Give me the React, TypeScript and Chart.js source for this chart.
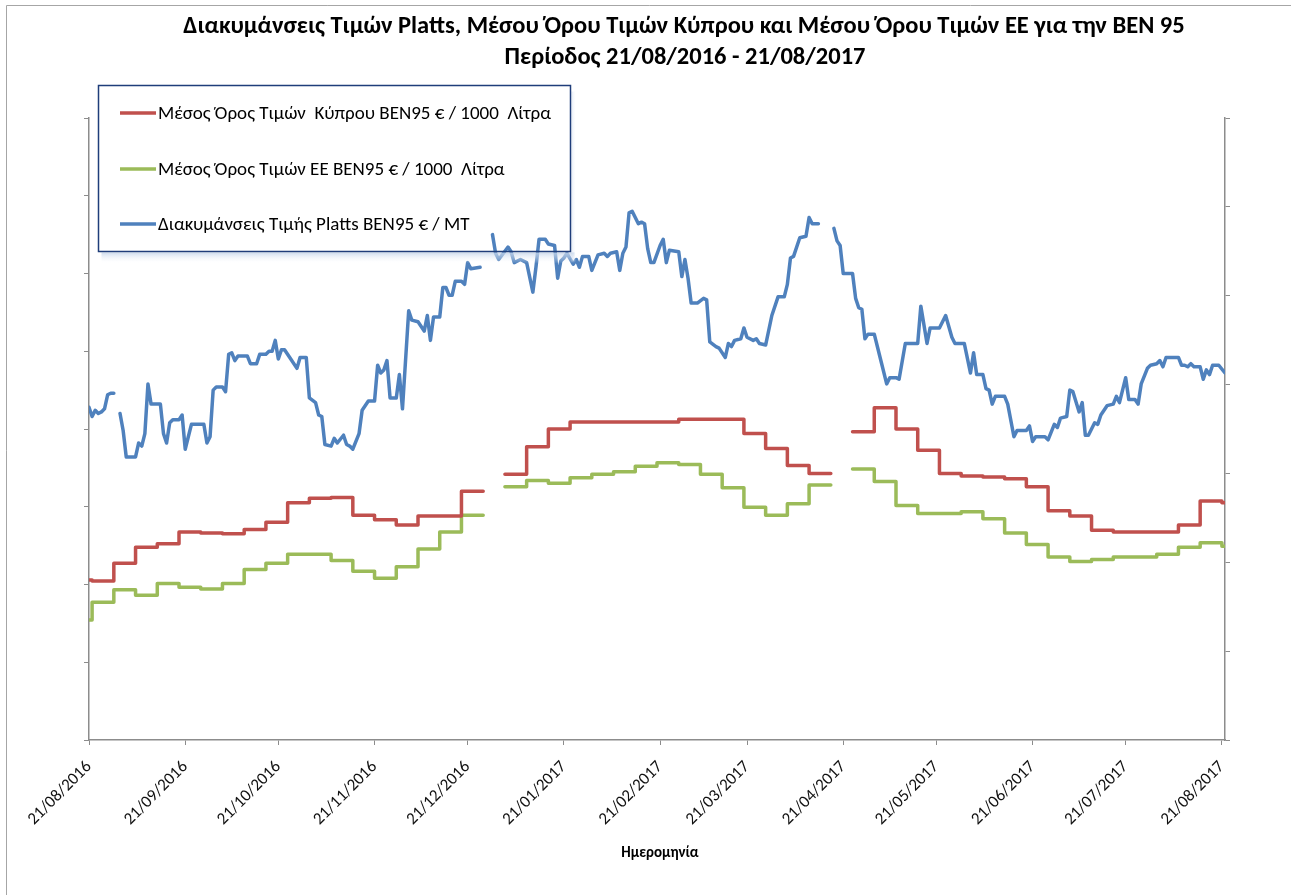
import React, { useEffect, useRef } from "react";
import { Chart, registerables } from "chart.js";

Chart.register(...registerables);

// ---------- text ----------
const titleLines = [
  "Διακυμάνσεις Τιμών Platts, Μέσου Όρου Τιμών Κύπρου και Μέσου Όρου Τιμών ΕΕ για την ΒΕΝ 95",
  "Περίοδος 21/08/2016 - 21/08/2017",
];
const seriesNames = [
  "Μέσος Όρος Τιμών  Κύπρου BEN95 € / 1000  Λίτρα",
  "Μέσος Όρος Τιμών ΕΕ BEN95 € / 1000  Λίτρα",
  "Διακυμάνσεις Τιμής Platts BEN95 € / MT",
];
const xAxisTitle = "Ημερομηνία";

// ---------- x axis tick labels (dates) ----------
const tickLabels = [
  "21/08/2016", "21/09/2016", "21/10/2016", "21/11/2016", "21/12/2016", "21/01/2017",
  "21/02/2017", "21/03/2017", "21/04/2017", "21/05/2017", "21/06/2017", "21/07/2017", "21/08/2017",
];

// ---------- weekly averages (days since 21/08/2016, step starts) ----------
const stepDays = [
  0, 1, 8, 15, 22, 29, 36, 43, 50, 57, 64, 71, 78, 85, 92, 99, 106, 113, 120, 127,
  130,
  134, 141, 148, 155, 162, 169, 176, 183, 190, 197, 204, 211, 218, 225, 232, 239,
  242,
  246, 253, 260, 267, 274, 281, 288, 295, 302, 309, 316, 323, 330, 337, 344, 351, 358, 365, 366,
];
const cyprusPrices = [
  1180, 1179, 1199, 1217, 1221, 1234, 1233, 1232, 1237, 1245, 1267, 1272, 1273, 1253, 1248, 1242, 1252, 1252, 1280, 1280,
  null,
  1299, 1330, 1350, 1358, 1358, 1358, 1358, 1358, 1361, 1361, 1361, 1345, 1328, 1309, 1300, 1300,
  null,
  1347, 1374, 1350, 1326, 1300, 1297, 1296, 1294, 1285, 1258, 1252, 1236, 1234, 1234, 1234, 1242, 1269, 1267, 1267,
];
const euPrices = [
  1135, 1155, 1169, 1163, 1176, 1172, 1170, 1176, 1192, 1199, 1209, 1209, 1202, 1190, 1182, 1195, 1215, 1234, 1253, 1253,
  null,
  1285, 1292, 1289, 1295, 1299, 1302, 1308, 1312, 1310, 1299, 1284, 1262, 1253, 1266, 1287, 1287,
  null,
  1305, 1291, 1264, 1255, 1255, 1257, 1249, 1233, 1220, 1206, 1201, 1203, 1206, 1206, 1209, 1217, 1222, 1218, 1218,
];

// ---------- Platts daily quotes (days since 21/08/2016) ----------
const plattsDays = [
  0, 1, 2, 3, 4, 5, 6, 7, 8, 9, 10, 11, 12, 15, 16, 17, 18, 19, 20, 23, 24, 25, 26, 27, 29, 30, 31, 32, 33, 37,
  38, 39, 40, 41, 43, 44, 45, 46, 47, 48, 51, 52, 54, 55, 57, 58, 59, 60, 61, 62, 63, 65, 67, 68, 70, 71, 73, 74, 75, 76,
  78, 79, 80, 82, 83, 84, 85, 87, 88, 90, 92, 93, 94, 95, 96, 97, 99, 100, 101, 103, 104, 106, 108, 109, 110, 111, 113, 114, 115, 116,
  117, 118, 120, 121, 122, 123, 126, 128, 130, 131, 132, 135, 136, 137, 139, 141, 143, 144, 145, 147, 148, 150, 151, 152, 153, 154, 156, 157, 158, 159,
  160, 161, 162, 164, 166, 167, 168, 170, 171, 172, 173, 174, 175, 177, 178, 179, 180, 181, 182, 184, 185, 186, 187, 190, 191, 192, 193, 194, 196, 198,
  199, 200, 202, 203, 205, 206, 207, 208, 210, 211, 212, 214, 215, 216, 218, 220, 222, 224, 225, 226, 227, 229, 231, 232, 233, 235, 237, 240, 241, 242,
  243, 246, 247, 248, 249, 250, 251, 253, 255, 257, 258, 260, 261, 263, 267, 268, 270, 271, 274, 276, 278, 279, 282, 284, 285, 286, 288, 289, 290, 291,
  292, 295, 296, 298, 299, 302, 303, 304, 305, 308, 309, 311, 312, 313, 315, 316, 317, 319, 320, 321, 322, 324, 325, 326, 328, 330, 331, 332, 334, 335,
  337, 338, 339, 341, 342, 344, 345, 346, 347, 351, 352, 353, 354, 355, 356, 358, 359, 360, 361, 362, 364, 366,
];
const plattsPrices = [
  514, 508, 512, 510, 511, 513, 522, 523, 523, null, 510, 499, 482, 482, 491, 489, 497, 529, 516, 516, 497, 491, 504, 506, 506, 509, 487, 495, 503, 503,
  491, 495, 525, 527, 527, 524, 548, 549, 544, 547, 547, 542, 542, 548, 548, 550, 550, 557, 545, 551, 551, 545, 539, 546, 546, 520, 517, 509, 508, 490,
  489, 494, 491, 496, 490, 489, 487, 497, 512, 518, 518, 541, 536, 538, 544, 520, 520, 535, 513, 576, 570, 569, 563, 573, 557, 572, 572, 591, 591, 586,
  586, 595, 595, 593, 607, 603, 604, null, 625, 613, 609, 617, 614, 607, 609, 607, 588, 604, 622, 622, 619, 618, 597, 608, 610, 613, 606, 609, 604, 611,
  611, 611, 602, 612, 613, 611, 613, 614, 602, 613, 617, 639, 640, 632, 633, 632, 616, 607, 607, 618, 622, 607, 615, 614, 598, 609, 597, 581, 581, 584,
  583, 556, 553, 552, 546, 555, 553, 557, 558, 565, 559, 557, 558, 555, 554, 573, 585, 585, 593, 610, 611, 623, 624, 636, 632, 632, null, 629, 621, 618,
  600, 600, 584, 578, 577, 558, 561, 561, 545, 529, 533, 533, 532, 555, 555, 579, 555, 565, 565, 573, 559, 555, 555, 536, 549, 535, 535, 526, 525, 516,
  521, 521, 516, 495, 499, 499, 502, 492, 495, 495, 493, 503, 501, 507, 508, 525, 524, 511, 517, 496, 496, 504, 503, 509, 515, 516, 521, 517, 533, 519,
  519, 516, 529, 539, 541, 542, 544, 540, 546, 546, 541, 541, 540, 542, 540, 540, 532, 538, 535, 541, 541, 536,
];

// ---------- helpers ----------
const START = Date.UTC(2016, 7, 21);
const dayOf = (label: string) => {
  const [d, m, y] = label.split("/").map(Number);
  return Math.round((Date.UTC(y, m - 1, d) - START) / 86400000);
};
const tickDays = tickLabels.map(dayOf);

const RED = "#C0504D";
const GREEN = "#9BBB59";
const BLUE = "#4F81BD";
const AXIS = "#8c8c8c";
const FONT = "Carlito, 'Liberation Sans', sans-serif";

const decorPlugin = {
  id: "decor",
  afterDatasetsDraw(chart: any) {
    const ctx: CanvasRenderingContext2D = chart.ctx;
    const colors = chart.data.datasets.map((d: any) => d.borderColor);
    const L = 98.5, T = 85.5, R = 570.5, B = 251.5;
    ctx.save();
    // soft shadow under the legend box
    const g = ctx.createLinearGradient(0, B, 0, B + 12);
    g.addColorStop(0, "rgba(190,208,232,0.9)");
    g.addColorStop(1, "rgba(255,255,255,0)");
    ctx.fillStyle = g;
    ctx.fillRect(L + 3, B + 1, R - L + 1, 12);
    const g2 = ctx.createLinearGradient(R, 0, R + 6, 0);
    g2.addColorStop(0, "rgba(190,208,232,0.6)");
    g2.addColorStop(1, "rgba(255,255,255,0)");
    ctx.fillStyle = g2;
    ctx.fillRect(R + 1, T + 6, 6, B - T + 4);
    ctx.strokeStyle = "#1F3D7A";
    ctx.lineWidth = 1.5;
    ctx.strokeRect(L, T, R - L, B - T);
    const ys = [113, 169, 224];
    seriesNames.forEach((name, i) => {
      ctx.strokeStyle = colors[i];
      ctx.lineWidth = 3.5;
      ctx.beginPath();
      ctx.moveTo(120, ys[i]);
      ctx.lineTo(156, ys[i]);
      ctx.stroke();
      ctx.fillStyle = "#000";
      ctx.font = `19px ${FONT}`;
      ctx.textAlign = "left";
      ctx.textBaseline = "middle";
      ctx.fillText(name, 158, ys[i] + 1);
    });
    ctx.restore();
  },
  afterDraw(chart: any) {
    const ctx: CanvasRenderingContext2D = chart.ctx;
    ctx.save();
    // outer frame
    ctx.strokeStyle = "#a6a6a6";
    ctx.lineWidth = 1;
    ctx.beginPath();
    ctx.moveTo(6.5, 900);
    ctx.lineTo(6.5, 5.5);
    ctx.lineTo(1300, 5.5);
    ctx.stroke();
    ctx.fillStyle = "#000";
    ctx.textAlign = "center";
    ctx.textBaseline = "middle";
    ctx.font = `bold 24.5px ${FONT}`;
    ctx.fillText(titleLines[0], 684, 27);
    ctx.fillText(titleLines[1], 685, 58);
    ctx.font = `bold 15px ${FONT}`;
    ctx.fillText(xAxisTitle, 660, 853);
    ctx.restore();
  },
};

export default function App() {
  const ref = useRef<HTMLCanvasElement>(null);
  useEffect(() => {
    const grid = {
      drawOnChartArea: false,
      drawTicks: true,
      tickLength: 5,
      color: AXIS,
      lineWidth: 1,
    };
    const border = { display: true, color: AXIS, width: 1.5 };
    const chart = new Chart(ref.current!, {
      type: "line",
      data: {
        datasets: [
          {
            label: seriesNames[0],
            data: stepDays.map((d, i) => ({ x: d, y: cyprusPrices[i] })),
            borderColor: RED,
            stepped: "before",
            yAxisID: "yR",
          },
          {
            label: seriesNames[1],
            data: stepDays.map((d, i) => ({ x: d, y: euPrices[i] })),
            borderColor: GREEN,
            stepped: "before",
            yAxisID: "yR",
          },
          {
            label: seriesNames[2],
            data: plattsDays.map((d, i) => ({ x: d, y: plattsPrices[i] })),
            borderColor: BLUE,
            yAxisID: "yL",
          },
        ],
      } as any,
      options: {
        responsive: false,
        animation: false,
        devicePixelRatio: 1,
        spanGaps: false,
        layout: { padding: { left: 79, right: 56, top: 118, bottom: 45 } },
        elements: {
          point: { radius: 0 },
          line: { borderWidth: 3.5, tension: 0, borderCapStyle: "round", borderJoinStyle: "round" },
        },
        plugins: {
          legend: { display: false },
          title: { display: false },
          tooltip: { enabled: false },
        },
        scales: {
          x: {
            type: "linear",
            min: 0,
            max: 366,
            afterBuildTicks: (s: any) => {
              s.ticks = tickDays.map((v) => ({ value: v }));
            },
            ticks: {
              autoSkip: false,
              minRotation: 45,
              maxRotation: 45,
              padding: 12,
              color: "#111",
              font: { family: FONT, size: 17 },
              callback: (v: any) => {
                const i = tickDays.indexOf(Number(v));
                return i >= 0 ? tickLabels[i] : "";
              },
            },
            grid,
            border,
            afterFit: (s: any) => {
              s.height = 110;
            },
          },
          yL: {
            position: "left",
            min: 300,
            max: 700,
            ticks: { display: false, stepSize: 50 },
            grid,
            border,
            afterFit: (s: any) => {
              s.width = 10;
            },
          },
          yR: {
            position: "right",
            min: 1000,
            max: 1700,
            ticks: { display: false, stepSize: 100 },
            grid,
            border,
            afterFit: (s: any) => {
              s.width = 10;
            },
          },
        },
      } as any,
      plugins: [decorPlugin],
    });
    return () => chart.destroy();
  }, []);
  return (
    <div style={{ position: "fixed", left: 0, top: 0, width: 1291, height: 895, background: "#fff" }}>
      <canvas ref={ref} width={1291} height={895} style={{ display: "block" }} />
    </div>
  );
}
